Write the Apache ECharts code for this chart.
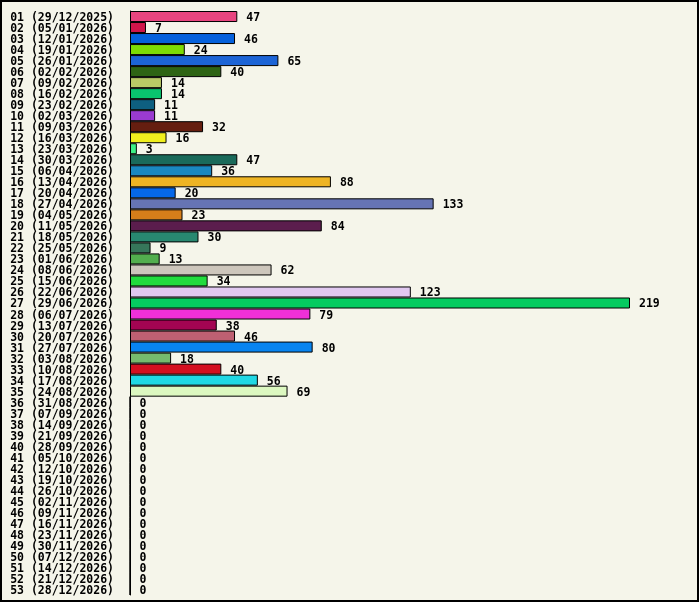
<!DOCTYPE html>
<html>
<head>
<meta charset="utf-8">
<script src="https://cdn.jsdelivr.net/npm/echarts@6/dist/echarts.min.js"></script>
<style>
  html, body { margin: 0; padding: 0; background: #ffffff; }
  #frame {
    box-sizing: border-box;
    width: 699px; height: 602px;
    border: 2px solid #000;
    background: #f5f5ea;
  }
  #weeks_chart { width: 695px; height: 598px; }
</style>
</head>
<body>
<div id="frame"><div id="weeks_chart"></div></div>
<script>
var week_labels = [
  "01 (29/12/2025)", "02 (05/01/2026)", "03 (12/01/2026)", "04 (19/01/2026)",
  "05 (26/01/2026)", "06 (02/02/2026)", "07 (09/02/2026)", "08 (16/02/2026)",
  "09 (23/02/2026)", "10 (02/03/2026)", "11 (09/03/2026)", "12 (16/03/2026)",
  "13 (23/03/2026)", "14 (30/03/2026)", "15 (06/04/2026)", "16 (13/04/2026)",
  "17 (20/04/2026)", "18 (27/04/2026)", "19 (04/05/2026)", "20 (11/05/2026)",
  "21 (18/05/2026)", "22 (25/05/2026)", "23 (01/06/2026)", "24 (08/06/2026)",
  "25 (15/06/2026)", "26 (22/06/2026)", "27 (29/06/2026)", "28 (06/07/2026)",
  "29 (13/07/2026)", "30 (20/07/2026)", "31 (27/07/2026)", "32 (03/08/2026)",
  "33 (10/08/2026)", "34 (17/08/2026)", "35 (24/08/2026)", "36 (31/08/2026)",
  "37 (07/09/2026)", "38 (14/09/2026)", "39 (21/09/2026)", "40 (28/09/2026)",
  "41 (05/10/2026)", "42 (12/10/2026)", "43 (19/10/2026)", "44 (26/10/2026)",
  "45 (02/11/2026)", "46 (09/11/2026)", "47 (16/11/2026)", "48 (23/11/2026)",
  "49 (30/11/2026)", "50 (07/12/2026)", "51 (14/12/2026)", "52 (21/12/2026)",
  "53 (28/12/2026)"
];

var week_values = [
  47, 7, 46, 24, 65, 40, 14, 14, 11, 11, 32, 16, 3, 47, 36, 88,
  20, 133, 23, 84, 30, 9, 13, 62, 34, 123, 219, 79, 38, 46, 80, 18,
  40, 56, 69, 0, 0, 0, 0, 0, 0, 0, 0, 0, 0, 0, 0, 0, 0, 0, 0, 0, 0
];

var week_colors = [
  "#e8457f", "#d0154a", "#0561dc", "#7ddc05", "#1c64d6", "#2e6414", "#b9c966", "#09c46e",
  "#0e5f80", "#9a3bd0", "#651e10", "#f0ef1e", "#3cf085", "#1a6a5a", "#1a88c0", "#eeb424",
  "#0568ea", "#6674b4", "#d57e1a", "#5b1d4d", "#288870", "#36765a", "#52ae4e", "#cdc6bc",
  "#22dc3e", "#e0c8f0", "#05cb60", "#f030d8", "#a30452", "#be6072", "#0884f0", "#76ba6e",
  "#d40f20", "#20d8e4", "#dcf8c0", "#888888", "#888888", "#888888", "#888888", "#888888",
  "#888888", "#888888", "#888888", "#888888", "#888888", "#888888", "#888888", "#888888",
  "#888888", "#888888", "#888888", "#888888", "#888888"
];

var font_name = "'DejaVu Sans Mono', 'Liberation Mono', monospace";

var bar_data = [];
for (var i = 0; i < week_values.length; i++) {
  bar_data.push({
    value: week_values[i],
    itemStyle: { color: week_colors[i] }
  });
}

var chartDom = document.getElementById('weeks_chart');
var myChart = echarts.init(chartDom);
var option;

// text a little lower than plain centring gives
var text_style = {
  color: '#000',
  fontFamily: font_name,
  fontWeight: 'bold',
  fontSize: 11.5,
  padding: [3, 0, 0, 0]
};

option = {
  backgroundColor: 'transparent',
  animation: false,
  grid: {
    left: 128,
    right: 67,
    top: 9,
    bottom: 5
  },
  xAxis: {
    type: 'value',
    min: 0,
    max: 219,
    show: false
  },
  yAxis: {
    type: 'category',
    data: week_labels,
    inverse: true,
    axisLine: { show: true, lineStyle: { color: '#000', width: 1 } },
    axisTick: { show: false },
    axisLabel: {
      margin: 16,
      interval: 0,
      formatter: '{t|{value}}',
      rich: { t: text_style }
    }
  },
  series: [
    {
      type: 'bar',
      data: bar_data,
      barCategoryGap: '0%',
      itemStyle: { borderColor: '#000', borderWidth: 1 },
      label: {
        show: true,
        position: 'right',
        distance: 9,
        formatter: '{t|{c}}',
        rich: { t: text_style }
      }
    }
  ]
};

option && myChart.setOption(option);
</script>
</body>
</html>
